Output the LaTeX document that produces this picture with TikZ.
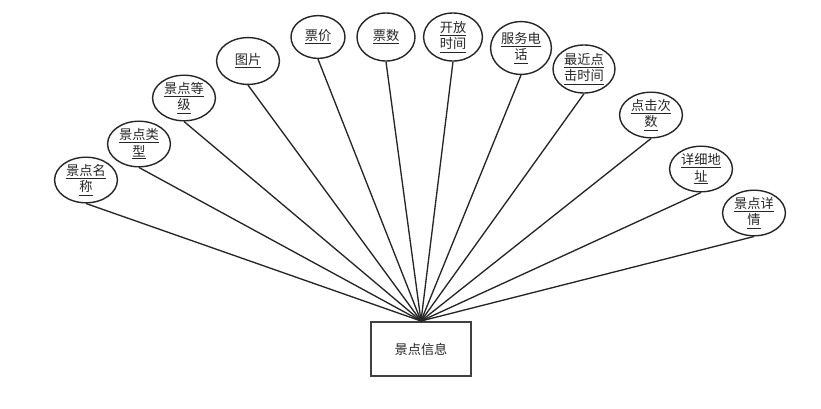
\documentclass[tikz,border=0pt]{standalone}
\usepackage{fontspec}
\setmainfont{Noto Sans CJK SC}
\usetikzlibrary{shapes.geometric}
\newcommand{\ul}[1]{\underline{#1}}

\begin{document}
\begin{tikzpicture}[x=0.025cm,y=-0.025cm,
   every node/.style={font=\fontsize{9.4}{11.6}\selectfont,align=center,text=black!85},
   attr/.style={draw=black!85,line width=1pt,ellipse,inner sep=0pt,minimum width=1.57cm,minimum height=1.14cm},
   ent/.style={draw=black!75,line width=1.4pt,minimum width=2.52cm,minimum height=1.35cm},
   link/.style={draw=black!85,line width=0.95pt}]
  \useasboundingbox (0,0) rectangle (821,408);
  \node[attr] (name) at (86,180) {\ul{景点名}\\\ul{称}};
  \node[attr] (type) at (139,144) {\ul{景点类}\\\ul{型}};
  \node[attr] (grade) at (184,98) {\ul{景点等}\\\ul{级}};
  \node[attr,minimum height=1.17cm] (pic) at (248,61) {\ul{图片}};
  \node[attr,minimum width=1.35cm,minimum height=1.07cm] (price) at (318,37) {\ul{票价}};
  \node[attr,minimum width=1.45cm,minimum height=1.2cm] (count) at (386,37) {\ul{票数}};
  \node[attr,minimum width=1.47cm,minimum height=1.2cm] (open) at (453,37) {\ul{开放}\\\ul{时间}};
  \node[attr,minimum width=1.52cm,minimum height=1.32cm] (phone) at (521,48) {\ul{服务电}\\\ul{话}};
  \node[attr,minimum width=1.55cm,minimum height=1.2cm] (recent) at (584,69) {\ul{最近点}\\\ul{击时间}};
  \node[attr] (clicks) at (651,115) {\ul{点击次}\\\ul{数}};
  \node[attr] (addr) at (701,169) {\ul{详细地}\\\ul{址}};
  \node[attr] (detail) at (754,213) {\ul{景点详}\\\ul{情}};
  \node[ent] (info) at (421,349) {景点信息};
  \foreach \n in {name,type,grade,pic,price,count,open,phone,recent,clicks,addr,detail}
    {\draw[link] (\n.south)--(info.north);}
\end{tikzpicture}
\end{document}
